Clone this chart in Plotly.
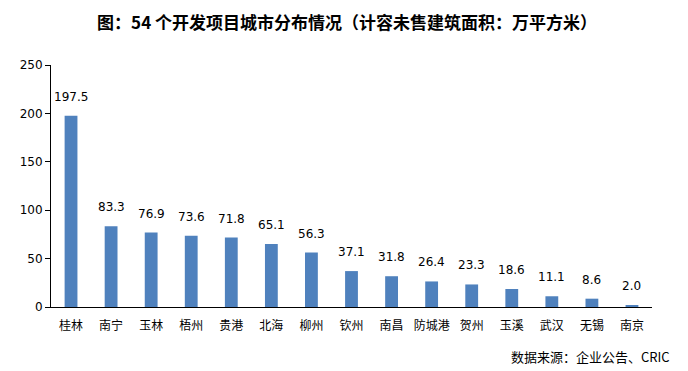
import plotly.graph_objects as go

cities = ["桂林", "南宁", "玉林", "梧州", "贵港", "北海", "柳州", "钦州", "南昌", "防城港", "贺州", "玉溪", "武汉", "无锡", "南京"]
values = [197.5, 83.3, 76.9, 73.6, 71.8, 65.1, 56.3, 37.1, 31.8, 26.4, 23.3, 18.6, 11.1, 8.6, 2.0]
y_ticks = [0, 50, 100, 150, 200, 250]

font = "Noto Sans CJK SC"

fig = go.Figure(go.Bar(
    x=cities, y=values,
    marker=dict(color="#4f81bd", line=dict(width=0)),
    cliponaxis=False,
))

# value labels above bars, placed through the data scales
for c, v in zip(cities, values):
    fig.add_annotation(x=c, y=v, text=f"{v:.1f}", showarrow=False,
                       yanchor="bottom", yshift=10,
                       font=dict(family="DejaVu Sans", size=12, color="black"))

# page body has an 8px margin: figure is 680x363 placed at (8, 8)
fig.update_layout(
    width=680, height=363,
    margin=dict(l=43, r=36, t=57, b=64),
    plot_bgcolor="white", paper_bgcolor="white",
    bargap=0.68,
    showlegend=False,
    title=dict(text="<b>图：54 个开发项目城市分布情况（计容未售建筑面积：万平方米）</b>",
               x=(343 - 8) / 680, xref="paper", xanchor="center",
               y=1 - 15 / 363, yref="container", yanchor="middle",
               font=dict(family=font, size=17, color="black")),
)
fig.add_annotation(text="数据来源：企业公告、CRIC", xref="paper", yref="paper",
                   x=(664 - 43) / 601, y=-(348 - 299) / 242, xanchor="right", yanchor="middle",
                   showarrow=False,
                   font=dict(family=font, size=13, color="black"))
fig.update_xaxes(showline=True, linecolor="black", linewidth=1, ticks="",
                 ticklabelstandoff=8,
                 tickfont=dict(family=font, size=12, color="black"), showgrid=False)
fig.update_yaxes(range=[0, 250], tickvals=y_ticks, showline=True, linecolor="black", linewidth=1,
                 ticks="outside", ticklen=5, tickcolor="black", showgrid=False, zeroline=False,
                 tickfont=dict(family="DejaVu Sans", size=12, color="black"))

fig.write_html("out.html")
